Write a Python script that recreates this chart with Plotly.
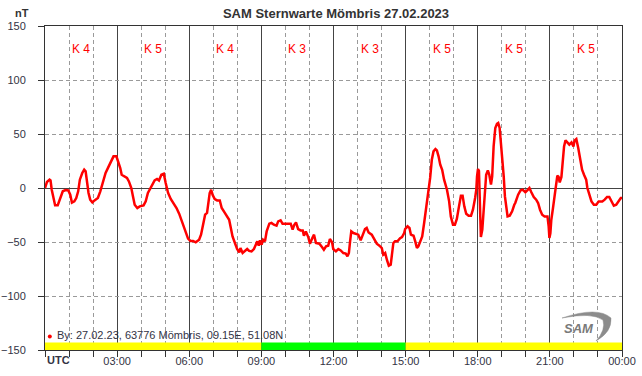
import plotly.graph_objects as go

# ---- data (hours UTC, nT) ----
hours = [0.0, 0.08, 0.19, 0.23, 0.28, 0.35, 0.42, 0.53, 0.63, 0.74, 0.85, 0.97, 1.05, 1.12, 1.22, 1.30, 1.38, 1.45,
         1.55, 1.63, 1.69, 1.74, 1.81, 1.88, 1.97, 2.06, 2.20, 2.30, 2.41, 2.52, 2.65, 2.76, 2.85, 2.97, 3.03, 3.13,
         3.19, 3.31, 3.41, 3.49, 3.59, 3.66, 3.73, 3.84, 3.94, 4.10, 4.19, 4.28, 4.42, 4.56, 4.66, 4.74, 4.84, 4.94,
         5.02, 5.12, 5.23, 5.35, 5.47, 5.58, 5.67, 5.77, 5.85, 5.95, 6.05, 6.16, 6.27, 6.41, 6.49, 6.58, 6.66, 6.74,
         6.80, 6.85, 6.91, 6.97, 7.06, 7.16, 7.27, 7.35, 7.48, 7.58, 7.66, 7.73, 7.80, 7.90, 7.99, 8.08, 8.13, 8.22,
         8.31, 8.41, 8.49, 8.59, 8.69, 8.76, 8.83, 8.89, 8.94, 9.01, 9.07, 9.15, 9.22, 9.33, 9.42, 9.52, 9.63, 9.70,
         9.80, 9.88, 10.05, 10.22, 10.30, 10.37, 10.44, 10.53, 10.63, 10.72, 10.77, 10.85, 10.95, 11.02, 11.12, 11.19,
         11.27, 11.41, 11.52, 11.60, 11.69, 11.78, 11.85, 11.94, 11.99, 12.10, 12.20, 12.30, 12.41, 12.51, 12.58,
         12.64, 12.69, 12.74, 12.83, 12.94, 13.03, 13.13, 13.21, 13.31, 13.38, 13.46, 13.59, 13.70, 13.80, 13.91,
         14.01, 14.07, 14.15, 14.22, 14.30, 14.38, 14.44, 14.49, 14.56, 14.66, 14.77, 14.85, 14.94, 14.98, 15.08,
         15.16, 15.22, 15.33, 15.40, 15.47, 15.53, 15.60, 15.69, 15.77, 15.85, 15.95, 16.02, 16.09, 16.16, 16.24,
         16.30, 16.37, 16.44, 16.52, 16.60, 16.72, 16.81, 16.88, 16.97, 17.05, 17.13, 17.22, 17.30, 17.37, 17.44,
         17.52, 17.62, 17.72, 17.80, 17.89, 17.94, 17.97, 18.01, 18.05, 18.08, 18.11, 18.13, 18.19, 18.24, 18.30,
         18.35, 18.42, 18.48, 18.55, 18.60, 18.66, 18.73, 18.80, 18.85, 18.91, 18.97, 19.02, 19.08, 19.13, 19.19,
         19.24, 19.33, 19.43, 19.52, 19.56, 19.68, 19.78, 19.87, 19.98, 20.06, 20.15, 20.23, 20.33, 20.43, 20.51,
         20.59, 20.68, 20.78, 20.90, 20.95, 20.98, 21.02, 21.06, 21.13, 21.20, 21.26, 21.31, 21.36, 21.41, 21.48,
         21.53, 21.59, 21.65, 21.73, 21.81, 21.90, 21.98, 22.03, 22.10, 22.18, 22.26, 22.34, 22.42, 22.51, 22.56,
         22.65, 22.73, 22.83, 22.93, 23.03, 23.18, 23.28, 23.38, 23.47, 23.56, 23.66, 23.76, 23.87, 23.95, 24.0]

by_nT = [0, 5.5, 7.7, 7, -1.6, -10.8, -16, -16, -10, -3, -1.9, -2.2, -6.2, -13.6, -12.4, -9.3, -3.1, 7.7,
         13.9, 17, 15.4, 4.6, -4.6, -10.8, -13.3, -11.5, -9.3, -3.1, 6.1, 13.9, 20, 25.6, 29.3, 29.3, 25.6, 18.5,
         12.3, 10.2, 9.3, 6.1, 0, -7.8, -15.5, -18.5, -17, -16.1, -12.4, -4.6, 0.9, 7, 8.3, 7, 12.3, 13.2,
         4.6, -4.6, -10.2, -14.5, -18.5, -23.8, -29.4, -35.5, -41.7, -46.9, -49, -49, -50.3, -47.9, -43.2, -32.4, -24.7, -23.1,
         -13.9, -4.6, -1.6, -6.2, -10.2, -11.5, -11.5, -18.5, -23.1, -26.9, -29.4, -37, -44.8, -50.9, -56.5, -59.6, -55.6, -60.2,
         -58.7, -56.5, -58.3, -58.7, -56.5, -52.5, -49.4, -53.4, -48.5, -52.5, -47.9, -49.4, -40.2, -33, -32.4, -34, -34.9, -30.9,
         -30, -33, -33, -33, -38.6, -34, -31.9, -38, -39.3, -39.3, -44.2, -40.2, -45.4, -51.6, -46.3, -43.2,
         -50.9, -51.6, -54.6, -57.1, -54, -53.4, -47.2, -50.3, -56.5, -58.7, -56.5, -57.8, -60.2, -60.8, -63.3,
         -60.2, -49.4, -40.2, -41.7, -42.3, -43.2, -48.5, -43.2, -38, -37, -41.1, -43.2, -47.2, -51.6, -53.4,
         -55.6, -61.8, -60.2, -66.4, -71.9, -71, -61.8, -50.9, -49.4, -49.4, -46.5, -45.4, -41.7, -38, -35.5,
         -37, -43.2, -44.2, -49.4, -55.6, -54, -49.4, -44.8, -32.4, -20.1, -1.6, 9.3, 26.2, 33.9, 36.1,
         34.8, 29.3, 21.6, 16.9, 7.7, -1.6, -12.4, -26.3, -34, -34, -28.7, -17, -7.1, -7.1, -17,
         -23.8, -25.6, -25.6, -20.1, -9.3, -1.6, 10.7, 17.6, 16, -20.1, -44.8, -45.4, -38.6, -20.1, 1.5,
         12.3, 16.3, 12.3, 3.1, 10.7, 38.5, 55.6, 59.5, 60.2, 55.6, 41.7, 26.2, 10.7, -7.8, -20.1,
         -26.3, -25.6, -21.6, -15.5, -13.9, -6.2, -2.2, -1.6, -4, -2.2, 0, -4, -8.3, -10.8, -13.9,
         -20.1, -24.7, -26.3, -26.3, -35.5, -46.3, -42, -29.4, -18.5, -4.6, 7.7, 11.4, 10.5, 5.2, 10.2,
         26.2, 38.5, 44.1, 41.7, 40.1, 42.2, 38.5, 44.1, 45.4, 37, 26.2, 16.9, 12.3, 7.7, 0,
         -7.8, -12.4, -15.5, -15.5, -12.4, -12.4, -10.8, -8.3, -8.3, -12.4, -16.4, -15.5, -12.4, -9.3, -9.3]

k_index = [4, 5, 4, 3, 3, 5, 5, 5]              # one per 3-hour block
k_block_start = [0, 3, 6, 9, 12, 15, 18, 21]

tick_hours = [0, 3, 6, 9, 12, 15, 18, 21, 24]
tick_text = ["", "03:00", "06:00", "09:00", "12:00", "15:00", "18:00", "21:00", "00:00"]

band_start = [0, 9, 15]
band_end = [9, 15, 24]
band_color = ["#ffff00", "#00ff00", "#ffff00"]

title_text = "SAM Sternwarte Mömbris 27.02.2023"
series_label = "By: 27.02.23, 63776 Mömbris, 09.15E, 51.08N"

FONT = "Arial, Liberation Sans, sans-serif"
DARK = "#333333"
GRID = "#9a9a9a"

W, H = 642, 376
ML, MR, MT, MB = 45, 20, 26, 26
PW, PH = W - ML - MR, H - MT - MB

def px(xp):
    return (xp - ML) / PW
def py(yp):
    return (H - MB - yp) / PH

fig = go.Figure()
fig.add_trace(go.Scatter(x=hours, y=by_nT, mode="lines",
                         line=dict(color="#ff0000", width=2.5), showlegend=False,
                         hoverinfo="skip"))

# legend-like marker + label
fig.add_trace(go.Scatter(x=[0.2], y=[-137.5], mode="markers",
                         marker=dict(color="#ff0000", size=4), showlegend=False, hoverinfo="skip"))
fig.add_annotation(x=0.42, y=-136.5, xref="x", yref="y", text=series_label, showarrow=False,
                   xanchor="left", yanchor="middle", font=dict(family=FONT, size=11, color="#333344"))

# day/night band
shapes = []
for s, e, c in zip(band_start, band_end, band_color):
    shapes.append(dict(type="rect", xref="x", yref="y", x0=s, x1=e, y0=-150, y1=-143,
                       fillcolor=c, line=dict(width=0), layer="between"))

# SAM logo swoosh (decoration)
swoosh = (f"M {px(562)},{py(318)} Q {px(598)},{py(306)} {px(611)},{py(318)} "
          f"Q {px(612)},{py(332)} {px(596)},{py(341)} "
          f"Q {px(606)},{py(330)} {px(603)},{py(320)} "
          f"Q {px(592)},{py(312)} {px(562)},{py(318)} Z")
shapes.append(dict(type="path", xref="paper", yref="paper", path=swoosh,
                   fillcolor="#8c8c8c", line=dict(color="#8c8c8c", width=0.5), layer="above"))
fig.update_layout(shapes=shapes)
fig.add_annotation(x=px(579), y=py(328), xref="paper", yref="paper", text="<b><i>SAM</i></b>",
                   showarrow=False, xanchor="center", yanchor="middle",
                   font=dict(family=FONT, size=13, color="#7a7a7a"))

# K-index labels
for s, k in zip(k_block_start, k_index):
    fig.add_annotation(x=s + 1.5, y=129, xref="x", yref="y", text=f"K {k}", showarrow=False,
                       font=dict(family=FONT, size=12, color="#ff0000"))

# UTC label and nT unit
fig.add_annotation(x=px(45), y=py(360), xref="paper", yref="paper", text="<b>UTC</b>", showarrow=False,
                   xanchor="left", yanchor="middle", font=dict(family=FONT, size=11, color="#333344"))
fig.add_annotation(x=px(22), y=py(13), xref="paper", yref="paper", text="<b>nT</b>",
                   showarrow=False, xanchor="center", yanchor="middle",
                   font=dict(family=FONT, size=11, color=DARK))

fig.update_layout(
    width=W, height=H,
    margin=dict(l=ML, r=MR, t=MT, b=MB, autoexpand=False),
    paper_bgcolor="white", plot_bgcolor="white",
    title=dict(text=f"<b>{title_text}</b>", x=336 / W, xanchor="center",
               y=1 - 13 / H, yanchor="middle", yref="container",
               font=dict(family=FONT, size=13, color=DARK)),
    font=dict(family=FONT, size=11, color="#333344"),
)

fig.update_xaxes(
    range=[0, 24], tickmode="array", tickvals=tick_hours, ticktext=tick_text,
    ticks="outside", ticklen=6, tickcolor=DARK, tickwidth=1, automargin=False,
    showline=True, linecolor=DARK, linewidth=1, mirror=True,
    showgrid=True, gridcolor="#444444", gridwidth=1,
    zeroline=False, ticklabelstandoff=-5,
    tickfont=dict(family=FONT, size=11, color="#333344"),
    minor=dict(tickmode="linear", tick0=0, dtick=1, ticks="outside", ticklen=6, tickcolor=DARK,
               showgrid=True, gridcolor=GRID, griddash="4px,3px", gridwidth=1),
)
fig.update_yaxes(
    range=[-150, 150], tickmode="linear", tick0=-150, dtick=50,
    ticks="outside", ticklen=6, tickcolor=DARK, tickwidth=1, automargin=False,
    showline=True, linecolor=DARK, linewidth=1, mirror=True,
    showgrid=True, gridcolor=GRID, griddash="4px,3px", gridwidth=1,
    zeroline=True, zerolinecolor="#444444", zerolinewidth=1,
    ticklabelstandoff=10,
    tickfont=dict(family=FONT, size=11, color="#333344"),
)

fig.write_html("out.html", config={"displayModeBar": False},
               post_script="document.body.style.margin='0px';")
